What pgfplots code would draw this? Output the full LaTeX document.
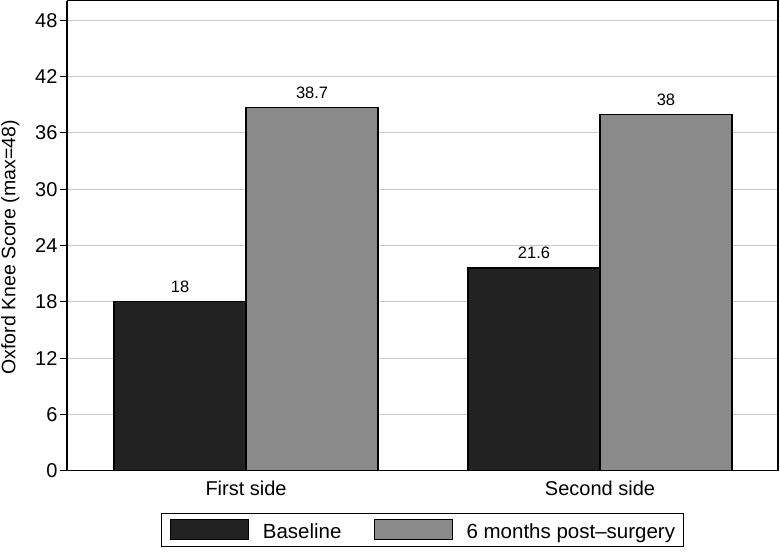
\documentclass[border=0pt]{standalone}
\usepackage{fontspec}
\setmainfont{Liberation Sans}
\usepackage{pgfplots}
\pgfplotsset{compat=1.18}
\definecolor{darkbar}{HTML}{222222}
\definecolor{graybar}{HTML}{8A8A8A}
\definecolor{gridc}{HTML}{C8C8C8}
\begin{document}
\begin{tikzpicture}
\begin{axis}[
  name=ax,
  scale only axis,
  width=711pt, height=470pt,
  xmin=-0.506, xmax=1.503,
  ymin=0, ymax=50.1,
  ytick={0,6,...,48},
  xtick={0,1},
  xticklabels={First side,Second side},
  major x tick style={draw=none},
  ymajorgrids,
  grid style={gridc, line width=1pt},
  axis line style={line width=1.3pt},
  ytick style={line width=1pt, black},
  tick align=outside,
  major tick length=7pt,
  axis x line*=bottom,
  axis y line*=left,
  separate axis lines,
  ybar=0pt,
  bar width=0.373,
  tick label style={font=\fontsize{20}{23}\selectfont},
  yticklabel style={xshift=1pt},
  /pgf/number format/assume math mode=true,
  ylabel={Oxford Knee Score (max=48)},
  ylabel style={font=\fontsize{19.5}{22}\selectfont, at={(axis description cs:-0.0942,0.475)}, anchor=north, inner sep=1pt},
  nodes near coords,
  nodes near coords style={font=\fontsize{16.5}{19}\selectfont, black, yshift=5pt},
  every node near coord/.append style={/pgf/number format/assume math mode=true},
  legend style={at={(0.5,-0.0894)}, anchor=north, legend columns=2,
    draw=black, line width=1pt, font=\fontsize{20.5}{23}\selectfont,
    nodes={inner sep=0pt},
    /tikz/every odd column/.append style={column sep=14pt},
    /tikz/every even column/.append style={column sep=32pt},
    inner xsep=8pt, inner ysep=6pt},
  legend image code/.code={\draw[#1, line width=1pt, draw=black] (0pt,-8pt) rectangle (78pt,12pt);},
  clip=false,
]
\addplot[fill=darkbar, draw=black, line width=1.2pt] coordinates {(0,18) (1,21.6)};
\addplot[fill=graybar, draw=black, line width=1.2pt] coordinates {(0,38.7) (1,38)};
\legend{Baseline, 6 months post{\textendash}surgery}
\draw[black, line width=1.3pt] (rel axis cs:0,1) -- (rel axis cs:1,1) -- (rel axis cs:1,0);
\end{axis}
\path[use as bounding box] ([xshift=-67pt,yshift=-81pt]ax.south west) rectangle ([xshift=2pt]ax.north east);
\end{tikzpicture}
\end{document}
